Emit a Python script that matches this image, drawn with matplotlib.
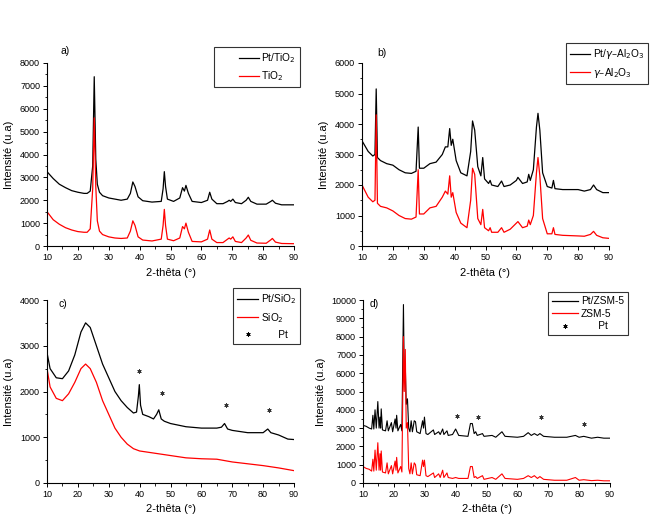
import matplotlib.pyplot as plt
from matplotlib.legend_handler import HandlerLine2D
from matplotlib.lines import Line2D
from matplotlib.ticker import AutoMinorLocator, MultipleLocator

plt.rcParams["font.family"] = ["Liberation Sans", "DejaVu Sans"]

# ---- a) TiO2 ----
tio2_x = [10, 12, 14, 16, 18, 20, 22, 23, 24, 24.8, 25.3, 25.8, 26.3, 27, 28, 30,
          32, 34, 36, 37, 37.8, 38.5, 39.5, 41, 44, 47, 47.6, 48.0, 48.4, 49, 51,
          53, 53.9, 54.5, 55.0, 55.8, 57, 60, 62, 62.7, 63.4, 65, 67, 68.5, 69,
          69.5, 70.2, 71, 73, 74.5, 75.2, 76, 78, 81, 82.5, 83, 84, 86, 90]
pt_tio2_y = [3250, 2950, 2700, 2550, 2420, 2350, 2300, 2300, 2400, 3500, 7400, 3800,
             2700, 2350, 2200, 2100, 2050, 2000, 2050, 2300, 2800, 2600, 2150, 1980,
             1920, 1950, 2500, 3250, 2600, 2050, 1950, 2100, 2550, 2400, 2650, 2300,
             1950, 1900, 2000, 2350, 2050, 1850, 1850, 1950, 2000, 1950, 2050, 1900,
             1850, 2000, 2130, 1950, 1830, 1830, 1950, 2000, 1870, 1800, 1800]
tio2_y = [1500, 1150, 950, 800, 700, 630, 600, 600, 750, 2500, 5600, 2600, 1100, 650,
          500, 400, 350, 330, 350, 650, 1100, 900, 400, 260, 220, 300, 900, 1600, 900,
          300, 230, 350, 850, 750, 1000, 600, 200, 180, 300, 700, 300, 150, 150, 300,
          350, 300, 400, 200, 150, 350, 480, 250, 130, 120, 270, 330, 170, 110, 100]

# ---- b) gamma-Al2O3 ----
al_x = [10, 12, 13.5, 14.2, 14.6, 15, 16, 18, 20, 22, 24, 26, 27.5, 28.2, 28.6, 30,
        32, 34, 36, 37, 37.8, 38.4, 38.9, 39.4, 40.5, 42, 44, 45.2, 45.8, 46.5, 47.5,
        48.5, 49.1, 49.7, 51, 51.5, 52, 54, 55.2, 56, 58, 60, 60.5, 62, 63.5, 64,
        64.5, 65.5, 66.5, 67, 67.6, 68.5, 70, 71.5, 72, 72.5, 75, 80, 82, 84, 85, 86,
        88, 90]
pt_al_y = [3450, 3100, 2950, 3000, 5150, 2900, 2800, 2700, 2650, 2500, 2400, 2380,
           2450, 3900, 2550, 2550, 2700, 2750, 3000, 3250, 3250, 3850, 3300, 3500,
           2800, 2400, 2300, 3100, 4100, 3800, 2600, 2300, 2900, 2200, 2050, 2150,
           2000, 1950, 2130, 1950, 2000, 2150, 2250, 2050, 2100, 2350, 2150, 2500,
           3900, 4350, 3800, 2400, 1950, 1900, 2150, 1880, 1850, 1850, 1800, 1850,
           2000, 1850, 1750, 1750]
al_y = [2000, 1600, 1450, 1500, 4300, 1400, 1300, 1250, 1150, 1000, 900, 880, 950,
        2500, 1050, 1050, 1250, 1300, 1600, 1800, 1700, 2300, 1600, 1750, 1100, 750,
        600, 1500, 2550, 2350, 900, 700, 1200, 600, 500, 600, 450, 450, 600, 450, 550,
        750, 800, 600, 650, 850, 700, 1000, 2400, 2900, 2300, 900, 400, 400, 600, 380,
        350, 330, 320, 380, 480, 350, 270, 250]

# ---- c) SiO2 ----
pt_si_x = [10, 11, 13, 15, 17, 19, 21, 22.5, 24, 26, 28, 30, 32, 34, 36, 38, 39,
           39.6, 39.9, 40.3, 41, 43, 44.5, 45.5, 46.2, 47, 48, 50, 55, 60, 65, 66.5,
           67.5, 68.5, 70, 75, 80, 81.5, 82.5, 85, 88, 90]
pt_si_y = [2850, 2500, 2300, 2280, 2450, 2800, 3300, 3500, 3400, 3000, 2600, 2300,
           2000, 1800, 1650, 1530, 1550, 1900, 2150, 1700, 1500, 1450, 1400, 1500,
           1600, 1400, 1350, 1300, 1230, 1200, 1200, 1220, 1300, 1180, 1150, 1100,
           1100, 1180, 1100, 1050, 960, 950]
si_x = [10, 11, 13, 15, 17, 19, 21, 22.5, 24, 26, 28, 30, 32, 34, 36, 38, 40, 45,
        50, 55, 60, 65, 70, 75, 80, 85, 90]
si_y = [2500, 2100, 1850, 1800, 1950, 2200, 2500, 2600, 2500, 2200, 1800, 1500, 1200,
        1000, 850, 750, 700, 650, 600, 550, 530, 520, 460, 420, 380, 330, 270]
si_star_x = [39.9, 47.3, 67.9, 82.0]
si_star_y = [2450, 1960, 1700, 1590]

# ---- d) ZSM-5 ----
zsm_x = [10, 11, 12, 12.8, 13.2, 13.5, 13.9, 14.3, 14.8, 15.2, 15.5, 15.7, 15.9,
         16.3, 17.3, 17.8, 18.2, 19.2, 19.6, 20.4, 20.7, 20.9, 21.3, 22.2, 22.6,
         23.1, 23.35, 23.7, 24.0, 24.4, 24.8, 25.2, 25.6, 26.0, 26.6, 27.0, 27.4,
         28.5, 29.3, 29.6, 29.9, 30.4, 31, 32.8, 33.2, 34.5, 35, 35.8, 36.2, 37.2,
         37.6, 39, 40, 41, 44, 44.8, 45.4, 46, 46.5, 47, 48.7, 49.2, 51.8, 53, 55,
         56, 60, 62, 63.5, 64.5, 65.5, 66.5, 67.3, 68.5, 72, 76, 78.8, 80, 81.5, 84,
         86, 88, 90]
pt_zsm_y = [3150, 3100, 3000, 2950, 3700, 2950, 4000, 3000, 4450, 3000, 3600, 3000,
            4050, 2900, 2850, 3400, 2850, 3300, 2800, 3500, 3000, 3700, 2850, 3200,
            2850, 9750, 6000, 6400, 4300, 4600, 3000, 2800, 3400, 2800, 3400, 3350,
            2800, 2700, 3400, 3000, 3600, 2700, 2650, 2900, 2650, 2800, 2650, 2950,
            2650, 2850, 2600, 2650, 2950, 2600, 2550, 3250, 3250, 2700, 2800, 2600,
            2700, 2550, 2600, 2500, 2800, 2550, 2500, 2550, 2750, 2600, 2700, 2600,
            2700, 2550, 2500, 2500, 2600, 2500, 2550, 2450, 2500, 2450, 2450]
zsm_y = [900, 800, 750, 650, 1300, 650, 1800, 700, 2200, 700, 1600, 700, 1750, 600,
         550, 1100, 500, 950, 500, 1200, 700, 1400, 550, 900, 600, 8000, 5000, 7300,
         3000, 3300, 800, 500, 1100, 500, 1100, 1000, 450, 400, 1250, 900, 1250, 400,
         350, 550, 300, 500, 300, 700, 300, 550, 300, 250, 300, 250, 250, 900, 900,
         300, 350, 250, 400, 200, 300, 200, 500, 250, 200, 250, 400, 300, 400, 250,
         350, 200, 150, 150, 300, 150, 180, 130, 150, 120, 120]
zsm_star_x = [40.6, 47.2, 67.5, 81.6]
zsm_star_y = [3670, 3600, 3600, 3250]

W, H = 651, 523
fig = plt.figure(figsize=(W / 100, H / 100), dpi=100)

RED = "#ff0000"
STAR = (6, 2, 0)


class OffsetLine(HandlerLine2D):
    """legend line that only fills the right part of the handle box"""

    def __init__(self, skip=0.0, **kw):
        super().__init__(**kw)
        self.skip = skip

    def create_artists(self, legend, orig_handle, xdescent, ydescent, width,
                       height, fontsize, trans):
        arts = super().create_artists(legend, orig_handle, xdescent, ydescent,
                                      width, height, fontsize, trans)
        for a in arts:
            x = list(a.get_xdata())
            if len(x) >= 2 and self.skip:
                x0, x1 = x[0], x[-1]
                lo = x0 + self.skip * (x1 - x0)
                a.set_xdata([lo + (xi - x0) * (1 - self.skip) for xi in x])
        return arts


def make_ax(left, bottom, ymax, ystep, tag, tag_xy):
    ax = fig.add_axes([left / W, 1 - bottom / H, 247 / W, 183 / H])
    ax.set_xlim(10, 90)
    ax.set_ylim(0, ymax)
    ax.xaxis.set_major_locator(MultipleLocator(10))
    ax.yaxis.set_major_locator(MultipleLocator(ystep))
    ax.xaxis.set_minor_locator(AutoMinorLocator(2))
    ax.yaxis.set_minor_locator(AutoMinorLocator(2))
    ax.tick_params(which="major", direction="out", length=3, width=0.7,
                   labelsize=6.5, pad=2)
    ax.tick_params(which="minor", direction="out", length=1.8, width=0.6)
    for s in ("top", "right"):
        ax.spines[s].set_visible(False)
    for s in ("left", "bottom"):
        ax.spines[s].set_linewidth(0.8)
    ax.set_xlabel("2-thêta (°)", fontsize=8, labelpad=4)
    ax.set_ylabel("Intensité (u.a)", fontsize=8, labelpad=4)
    ax.text(tag_xy[0], tag_xy[1], tag, transform=ax.transAxes, fontsize=7.5)
    return ax


def add_legend(ax, labels, corner, star=False, hlen=2.0, skip=0.0, spacing=0.4):
    handles = [Line2D([], [], color="black", lw=0.9),
               Line2D([], [], color=RED, lw=0.9)]
    hmap = {handles[0]: OffsetLine(skip), handles[1]: OffsetLine(skip)}
    if star:
        handles.append(Line2D([], [], color="black", ls="none", marker=STAR,
                              ms=3, mew=0.6))
    leg = ax.legend(handles, labels, loc="upper right",
                    bbox_to_anchor=(corner[0] / W, 1 - corner[1] / H),
                    bbox_transform=fig.transFigure, fontsize=7.3, frameon=True,
                    fancybox=False, edgecolor="black", handlelength=hlen,
                    handletextpad=0.25, borderpad=0.4, labelspacing=spacing,
                    borderaxespad=0, handler_map=hmap)
    leg.get_frame().set_linewidth(0.8)


# a)
ax = make_ax(47, 246, 8000, 1000, "a)", (0.055, 1.05))
ax.plot(tio2_x, pt_tio2_y, color="black", lw=0.9)
ax.plot(tio2_x, tio2_y, color=RED, lw=0.9)
add_legend(ax, ["Pt/TiO$_2$", "TiO$_2$"], (300, 47), hlen=4.0, skip=0.5,
           spacing=0.45)

# b)
ax = make_ax(362, 246, 6000, 1000, "b)", (0.06, 1.04))
ax.plot(al_x, pt_al_y, color="black", lw=0.9)
ax.plot(al_x, al_y, color=RED, lw=0.9)
add_legend(ax, ["Pt/$\\gamma$–Al$_2$O$_3$", "$\\gamma$–Al$_2$O$_3$"], (648, 43),
           hlen=2.0, spacing=0.45)

# c)
ax = make_ax(47, 483, 4000, 1000, "c)", (0.045, 0.96))
ax.plot(pt_si_x, pt_si_y, color="black", lw=0.9)
ax.plot(si_x, si_y, color=RED, lw=0.9)
ax.plot(si_star_x, si_star_y, ls="none", marker=STAR, ms=3, mew=0.6, color="#333333")
add_legend(ax, ["Pt/SiO$_2$", "SiO$_2$", "      Pt"], (300, 288), star=True,
           hlen=2.1, spacing=0.5)

# d)
ax = make_ax(363, 483, 10000, 1000, "d)", (0.025, 0.96))
ax.plot(zsm_x, pt_zsm_y, color="black", lw=0.8)
ax.plot(zsm_x, zsm_y, color=RED, lw=0.8)
ax.plot(zsm_star_x, zsm_star_y, ls="none", marker=STAR, ms=3, mew=0.6, color="#333333")
add_legend(ax, ["Pt/ZSM-5", "ZSM-5", "      Pt"], (628, 292), star=True,
           hlen=2.6, spacing=0.25)

fig.savefig("out.png", dpi=100)
